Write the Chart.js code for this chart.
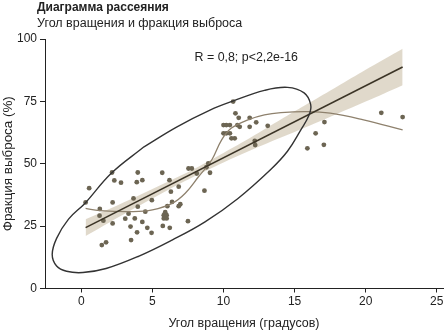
<!DOCTYPE html>
<html>
<head>
<meta charset="utf-8">
<script src="https://cdn.jsdelivr.net/npm/chart.js@4/dist/chart.umd.min.js"></script>
<style>
  html, body { margin: 0; padding: 0; background: #fff; }
  #wrap { position: relative; width: 447px; height: 331px; }
  #c { position: absolute; left: 0; top: 0; }
  .t { position: absolute; left: 37px; font-family: "Liberation Sans", Arial, sans-serif; color: #222; white-space: nowrap; }
  #title { top: 0px; font-size: 12px; font-weight: bold; }
  #sub { top: 16px; font-size: 12.5px; }
</style>
</head>
<body>
<div id="wrap">
  <canvas id="c" width="447" height="331"></canvas>
  <div class="t" id="title">Диаграмма рассеяния</div>
  <div class="t" id="sub">Угол вращения и фракция выброса</div>
</div>
<script>
// scatter points
const pointsX = [0.3, 0.55, 1.3, 1.28, 1.55, 1.44, 1.74, 2.16, 2.32, 2.2, 2.2, 2.79, 3.09, 3.32, 3.46, 3.5,
  3.67, 3.76, 3.97, 3.9, 4.29, 3.97, 3.92, 4.29, 4.5, 4.64, 4.96, 4.94, 5.69, 5.73, 5.8, 6.0, 5.8, 6.0, 5.9,
  6.05, 6.2, 6.3, 6.22, 6.38, 6.85, 6.85, 6.96, 7.5, 7.54, 7.77, 8.12, 8.66, 8.93, 9.05, 8.8,
  10.0, 10.2, 10.45, 10.0, 10.2, 10.45, 10.56, 10.79, 10.68, 10.84, 11.07, 11.84, 10.98, 11.14, 11.84, 12.3, 13.11,
  12.2, 12.23, 15.9, 16.48, 17.1, 17.06, 21.1, 22.6];
const pointsY = [34.5, 40.2, 31.9, 29.2, 27.2, 17.4, 18.5, 46.5, 43.3, 34.5, 26.1, 42.4, 28.0, 30.0, 24.8, 19.4,
  36.1, 28.1, 46.5, 42.6, 43.4, 32.8, 22.5, 26.7, 30.8, 24.3, 35.4, 22.3, 46.4, 25.1, 29.4, 29.4, 28.1, 28.1, 30.6,
  33.0, 43.4, 38.8, 24.3, 34.7, 40.8, 33.0, 33.8, 27.0, 48.1, 48.1, 46.1, 39.2, 50.1, 46.4, 48.6,
  65.5, 65.5, 65.5, 62.2, 62.2, 62.2, 60.2, 60.2, 74.9, 70.2, 68.4, 68.4, 65.5, 64.8, 64.8, 66.6, 65.2,
  59.2, 57.5, 56.2, 62.2, 66.7, 57.6, 70.4, 68.7];

// linear fit and its confidence band
const fitX = [0.3, 22.6];
const fitY = [24.4, 88.8];
const bandX = [0.3, 2, 4, 6, 8, 10, 12, 14, 16, 18, 20, 22.6];
const bandLow = [21.0, 26.6, 33.0, 39.2, 45.1, 50.5, 55.6, 60.4, 65.1, 70.0, 74.9, 81.5];
const bandHigh = [27.8, 32.0, 37.2, 42.6, 48.1, 54.3, 60.8, 67.6, 74.3, 81.0, 87.7, 96.1];

// smooth curve
const loessX = [0.3, 1.28, 3.6, 5.0, 6.38, 7.31, 8.24, 9.17, 9.87, 10.56, 11.72, 12.88, 14.04, 15.9, 17.5, 19.85, 22.6];
const loessY = [32.1, 31.2, 30.8, 31.5, 34.1, 38.2, 44.8, 51.5, 59.6, 64.3, 67.6, 69.6, 70.5, 70.9, 70.3, 67.6, 63.6];

// ellipse outline
const ellipseX = [4.41, 6.73, 9.05, 10.7, 12.88, 14.5, 15.67, 16.13, 16.02, 15.43, 14.5, 13.34, 11.02, 8.7, 6.38,
  4.06, 1.74, 0.11, -1.04, -1.74, -2.05, -1.74, -0.9, 0.28, 2.09, 4.41];
const ellipseY = [56.8, 64.8, 71.5, 75.2, 79.4, 80.6, 78.4, 73.8, 69.5, 63.5, 55.0, 47.8, 36.1, 26.7, 19.4,
  13.0, 8.0, 6.4, 6.9, 9.0, 13.6, 20.1, 27.8, 34.3, 46.1, 56.8];

const xTicks = [0, 5, 10, 15, 20, 25];
const yTicks = [0, 25, 50, 75, 100];
const note = 'R = 0,8; p<2,2e-16';
const noteX = 11.6, noteY = 92.6;

function xy(xs, ys) {
  return xs.map((x, i) => ({ x: x, y: ys[i] }));
}

const FONT = '"Liberation Sans", Arial, sans-serif';
const INK = '#222';

const notePlugin = {
  id: 'note',
  afterDatasetsDraw(chart) {
    const ctx = chart.ctx;
    ctx.save();
    ctx.font = '12.4px ' + FONT;
    ctx.fillStyle = INK;
    ctx.textAlign = 'center';
    ctx.textBaseline = 'middle';
    ctx.fillText(note, chart.scales.x.getPixelForValue(noteX), chart.scales.y.getPixelForValue(noteY));
    ctx.restore();
  }
};

new Chart(document.getElementById('c'), {
  type: 'scatter',
  data: {
    datasets: [
      {
        data: xy(ellipseX, ellipseY),
        showLine: true, tension: 0.4,
        borderColor: '#333', borderWidth: 1.4,
        pointRadius: 0
      },
      {
        data: xy(fitX, fitY),
        showLine: true,
        borderColor: '#3b3426', borderWidth: 1.6,
        pointRadius: 0
      },
      {
        data: xy(loessX, loessY),
        showLine: true, tension: 0.4,
        borderColor: '#8e816d', borderWidth: 1.3,
        pointRadius: 0
      },
      {
        data: xy(pointsX, pointsY),
        pointRadius: 2.4,
        pointBackgroundColor: '#6c6553',
        pointBorderWidth: 0
      },
      {
        data: xy(bandX, bandHigh),
        showLine: true, tension: 0.3,
        borderWidth: 0, pointRadius: 0,
        backgroundColor: 'rgba(214, 204, 186, 0.75)',
        fill: 5
      },
      {
        data: xy(bandX, bandLow),
        showLine: true, tension: 0.3,
        borderWidth: 0, pointRadius: 0
      }
    ]
  },
  options: {
    animation: false,
    responsive: false,
    events: [],
    layout: { padding: { top: 39, right: 0, left: 0, bottom: 0 } },
    plugins: {
      legend: { display: false },
      tooltip: { enabled: false }
    },
    scales: {
      x: {
        type: 'linear',
        min: -2.556, max: 25.44,
        afterBuildTicks: s => { s.ticks = xTicks.map(v => ({ value: v })); },
        afterFit: s => { s.height = 42.5; s.paddingLeft = 0; s.paddingRight = 0; },
        grid: { drawOnChartArea: false, drawTicks: true, tickLength: 4, color: INK },
        border: { display: true, color: INK, width: 1 },
        ticks: { color: INK, font: { family: FONT, size: 12 }, padding: 2, maxRotation: 0 },
        title: { display: true, text: 'Угол вращения (градусов)', color: INK,
          font: { family: FONT, size: 12.5 }, padding: { top: 0, bottom: 0 } }
      },
      y: {
        type: 'linear',
        min: 0, max: 100,
        afterBuildTicks: s => { s.ticks = yTicks.map(v => ({ value: v })); },
        afterFit: s => { s.width = 45; s.paddingTop = 0; s.paddingBottom = 0; },
        grid: { drawOnChartArea: false, drawTicks: true, tickLength: 5, color: INK },
        border: { display: true, color: INK, width: 1 },
        ticks: { color: INK, font: { family: FONT, size: 12 }, padding: 3 },
        title: { display: true, text: 'Фракция выброса (%)', color: INK,
          font: { family: FONT, size: 13.4 }, padding: { top: 0, bottom: 0 } }
      }
    }
  },
  plugins: [notePlugin]
});
</script>
</body>
</html>
